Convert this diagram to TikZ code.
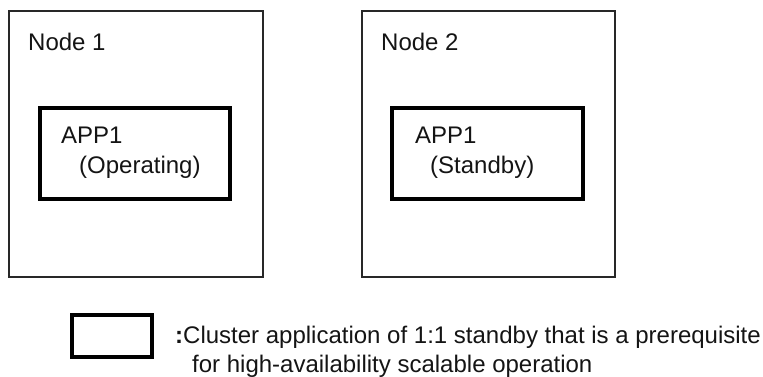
\documentclass[tikz,border=0pt]{standalone}
\usepackage{fontspec}
\setmainfont{Liberation Sans}
\usepackage{xcolor}
\usepackage{tikz}
\definecolor{edgegray}{RGB}{40,40,40}
\definecolor{inkblack}{RGB}{20,20,20}

\begin{document}
\begin{tikzpicture}[
    x=1pt,y=-1pt,
    every node/.style={font=\fontsize{24}{28}\selectfont,text=inkblack},
    hostbox/.style={draw=edgegray,line width=1.6pt,minimum width=#1,minimum height=266pt,inner sep=0pt},
    appbox/.style={draw=black,line width=3.6pt,minimum width=#1,minimum height=91pt,inner sep=0pt},
    label/.style={anchor=base west,inner sep=0pt}
  ]
    \useasboundingbox (0,0) rectangle (763,376);
    % nodes
    \node[hostbox=254pt] (node1) at (136,144) {};
    \node[hostbox=253pt] (node2) at (488.5,144) {};
    \node[label] (node1title) at (28,50) {Node 1};
    \node[label] (node2title) at (381,50) {Node 2};
    % applications
    \node[appbox=190pt] (app1) at (135,153.5) {};
    \node[appbox=191pt] (app2) at (487.5,153.5) {};
    \node[label] (app1name) at (61,143) {APP1};
    \node[label] (app1state) at (79,173) {(Operating)};
    \node[label] (app2name) at (415,143) {APP1};
    \node[label] (app2state) at (430,173) {(Standby)};
    % legend
    \node[draw=black,line width=3.6pt,minimum width=80pt,minimum height=42pt,inner sep=0pt] (legbox) at (112,336) {};
    \node[label] (legline1) at (175,343) {\textbf{:}Cluster application of 1:1 standby that is a prerequisite};
    \node[label] (legline2) at (192,372) {for high-availability scalable operation};
  \end{tikzpicture}
\end{document}
